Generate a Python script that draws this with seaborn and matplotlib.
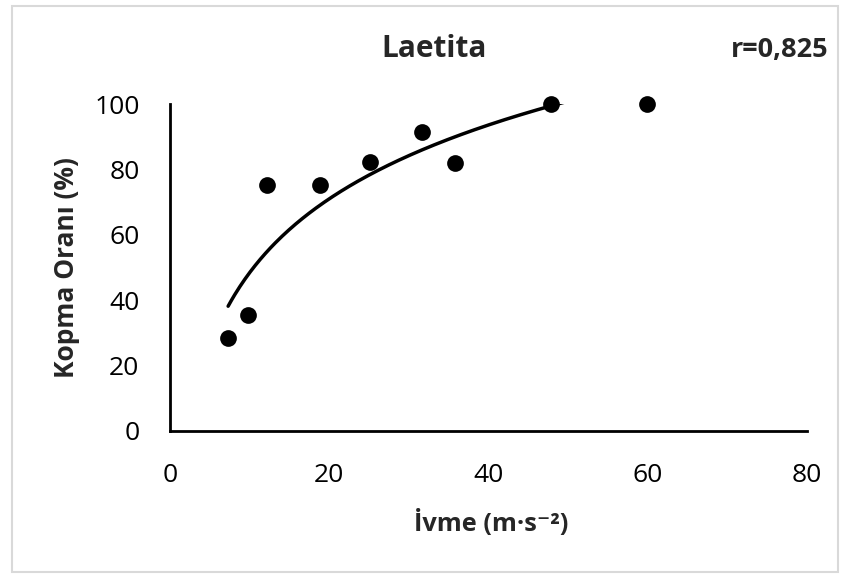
import numpy as np
import pandas as pd
import seaborn as sns
import matplotlib.pyplot as plt
from matplotlib.patches import Rectangle

sns.set_style("white")
plt.rcParams['font.family'] = ['Open Sans', 'DejaVu Sans']

# Data
ivme = [7.3, 9.8, 12.2, 18.8, 25.1, 31.7, 35.8, 47.9, 59.9]
kopma = [28.5, 35.5, 75.2, 75.2, 82.4, 91.5, 82.1, 100.0, 100.0]
x_ticks = [0, 20, 40, 60, 80]
y_ticks = [0, 20, 40, 60, 80, 100]
title = "Laetita"
r_text = "r=0,825"

df = pd.DataFrame({"ivme": ivme, "kopma": kopma})

W, H = 847, 576
fig = plt.figure(figsize=(W/100, H/100), dpi=100)
L, R, B, T = 170, 807, 431, 104
ax = fig.add_axes([L/W, 1-B/H, (R-L)/W, (B-T)/H])

# logarithmic trend line fitted over all points
lx = np.log(np.array(ivme))
b, a = np.polyfit(lx, np.array(kopma), 1)
xt = np.linspace(min(ivme), 49.5, 200)
sns.lineplot(x=xt, y=a + b*np.log(xt), ax=ax, color='black', lw=2.5, zorder=2)

sns.scatterplot(data=df, x="ivme", y="kopma", ax=ax, color='black', s=145,
                edgecolor='black', linewidth=0, zorder=3, clip_on=False)

ax.set_xlim(0, 80)
ax.set_ylim(0, 100)
ax.set_xticks(x_ticks)
ax.set_yticks(y_ticks)
ax.tick_params(axis='both', length=0, labelsize=19, colors='black')
ax.tick_params(axis='y', pad=22)
ax.tick_params(axis='x', pad=23)
for s in ['top', 'right']:
    ax.spines[s].set_visible(False)
for s in ['left', 'bottom']:
    ax.spines[s].set_color('black')
    ax.spines[s].set_linewidth(2)

ax.set_xlabel("İvme (m·s⁻²)", fontsize=18.3, fontweight='bold')
ax.xaxis.label.set_va('baseline')
ax.xaxis.set_label_coords((491-L)/(R-L), -(530.7-B)/(B-T))
ax.set_ylabel("Kopma Oranı (%)", fontsize=19, fontweight='bold')
ax.yaxis.label.set_va('center')
ax.yaxis.set_label_coords((66-L)/(R-L), (B-267.5)/(B-T))

fig.text(434.5/W, 1-56.7/H, title, ha='center', va='baseline', fontsize=21.5, fontweight='bold')
fig.text(779.5/W, 1-57.3/H, r_text, ha='center', va='baseline', fontsize=19.5, fontweight='bold')

fig.patches.append(Rectangle((12/W, 4/H), (838-12)/W, (572-6)/H,
                             transform=fig.transFigure, fill=False,
                             edgecolor='#d9d9d9', lw=1.5))

fig.savefig("out.png", dpi=100)
